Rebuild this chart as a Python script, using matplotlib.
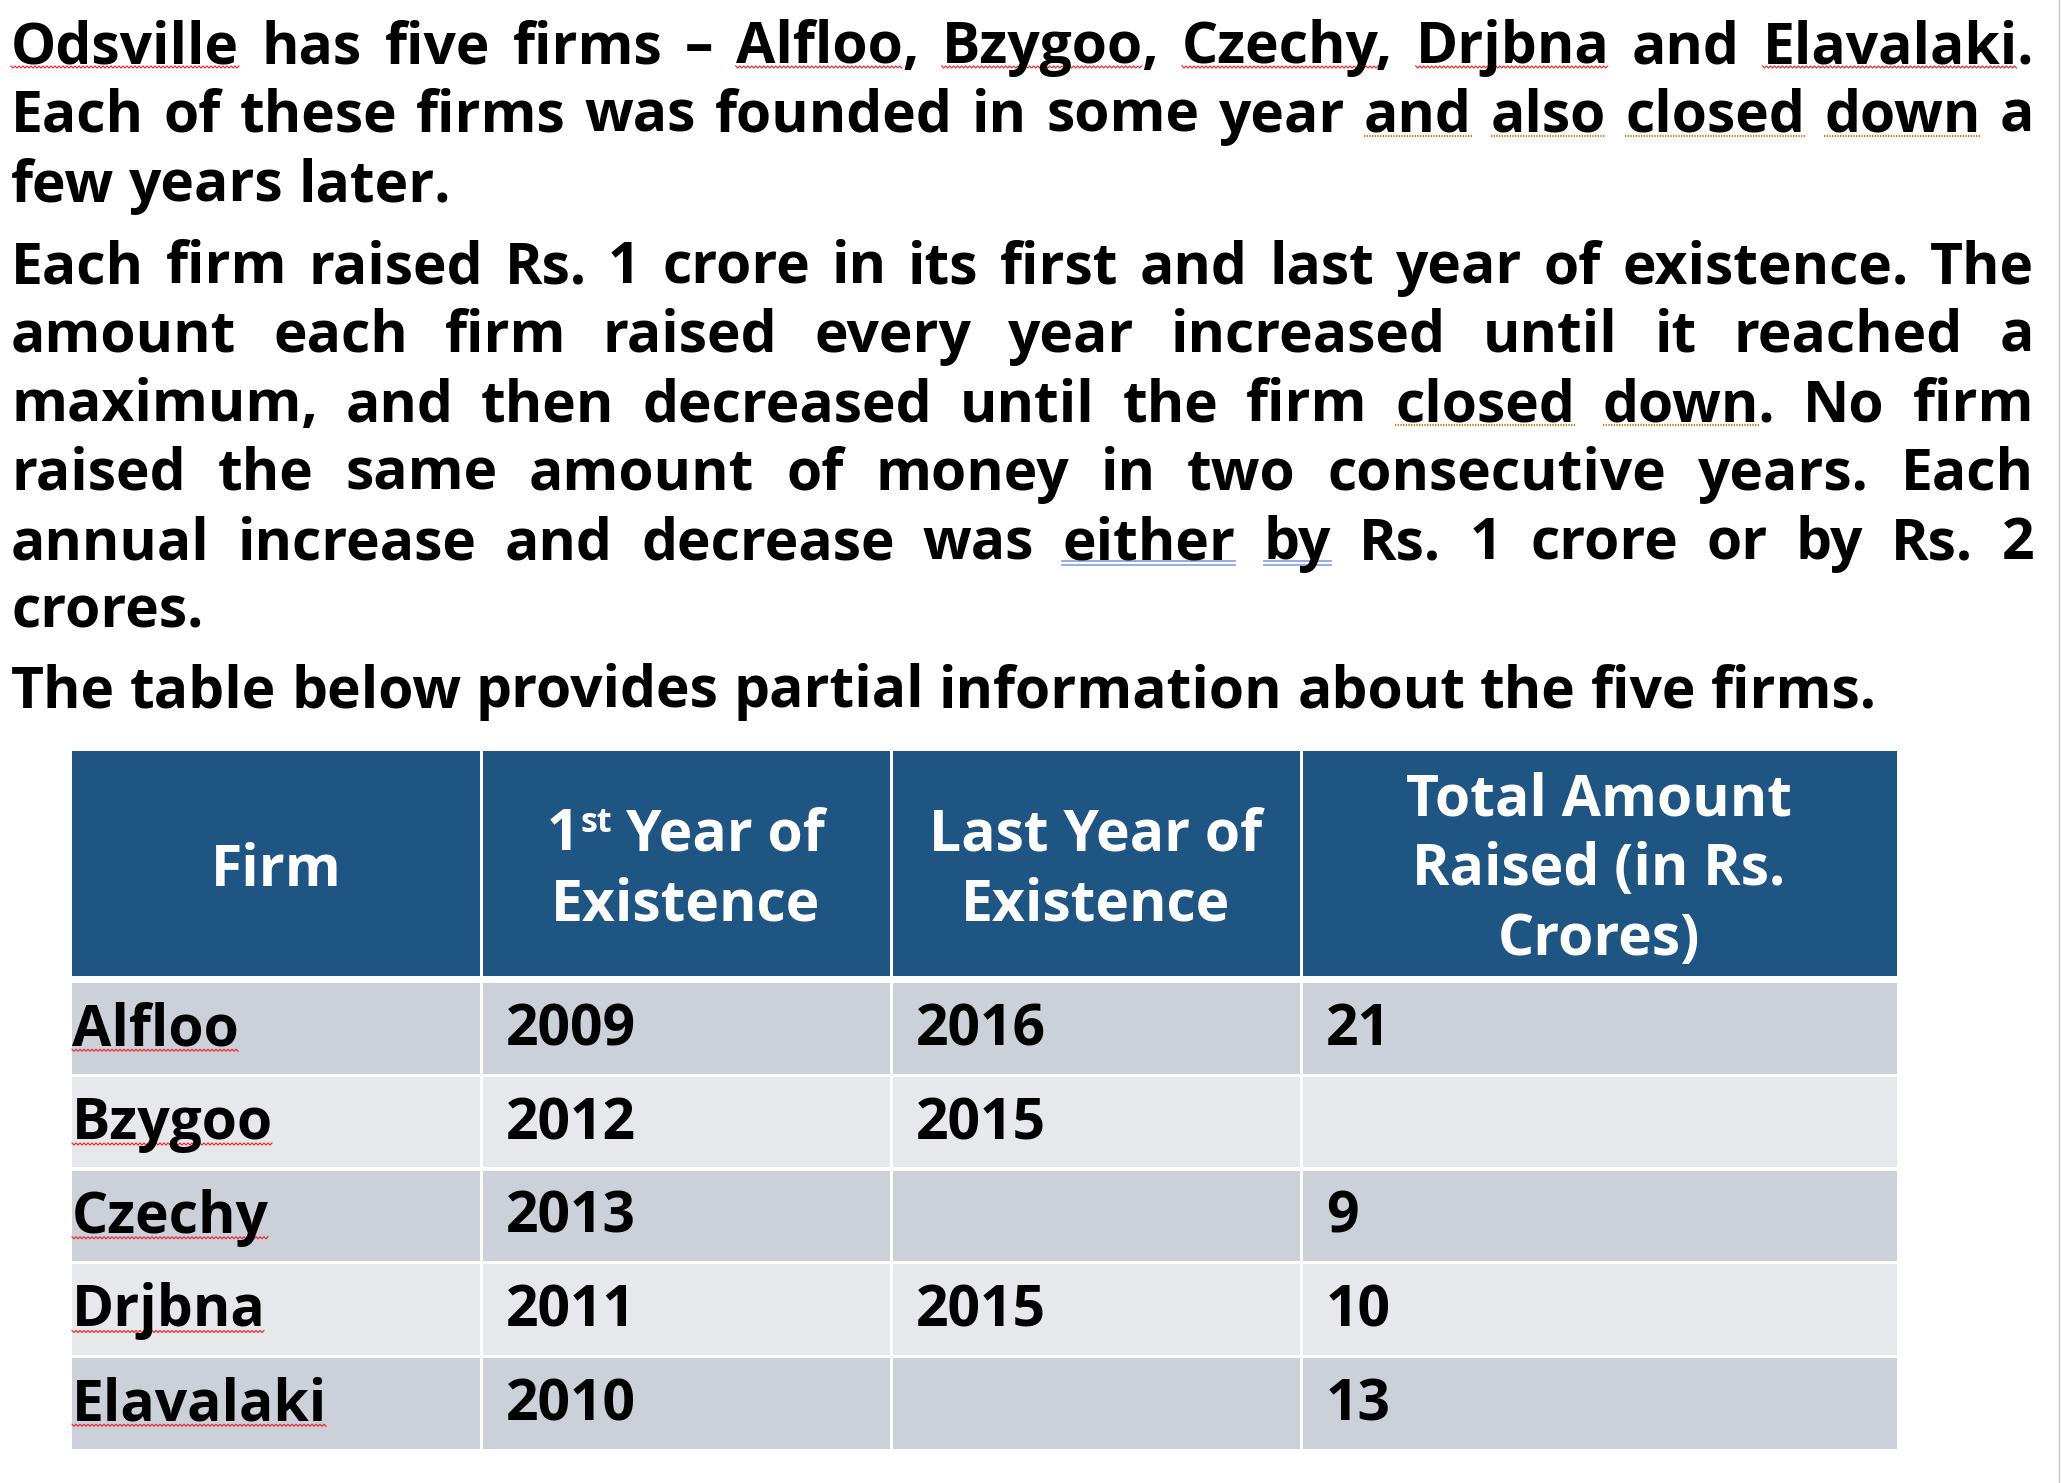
"""
Odsville firms puzzle: question text and partial information table,
redrawn as a single image (out.png, 2061 x 1483 px).
"""

import matplotlib.pyplot as plt
import numpy as np
from matplotlib import font_manager
from matplotlib.font_manager import FontProperties
from matplotlib.ft2font import FT2Font
from matplotlib.patches import Rectangle


# 1. Content

paragraph_1 = [
    "Odsville has five firms – Alfloo, Bzygoo, Czechy, Drjbna and Elavalaki.",
    "Each of these firms was founded in some year and also closed down a",
    "few years later.",
]
paragraph_2 = [
    "Each firm raised Rs. 1 crore in its first and last year of existence. The",
    "amount each firm raised every year increased until it reached a",
    "maximum, and then decreased until the firm closed down. No firm",
    "raised the same amount of money in two consecutive years. Each",
    "annual increase and decrease was either by Rs. 1 crore or by Rs. 2",
    "crores.",
]
paragraph_3 = [
    "The table below provides partial information about the five firms.",
]

header_labels = [
    ["Firm"],
    ["1st Year of", "Existence"],
    ["Last Year of", "Existence"],
    ["Total Amount", "Raised (in Rs.", "Crores)"],
]
firms = ["Alfloo", "Bzygoo", "Czechy", "Drjbna", "Elavalaki"]
first_year = ["2009", "2012", "2013", "2011", "2010"]
last_year = ["2016", "2015", "", "2015", ""]
total_raised = ["21", "", "9", "10", "13"]

# word underlines as (line number over all paragraphs, word index)
red_wavy_words = [(0, 0), (0, 5), (0, 6), (0, 7), (0, 8), (0, 10)]
gold_dotted_words = [(1, 9), (1, 10), (1, 11), (1, 12), (5, 7), (5, 8)]
blue_double_words = [(7, 5), (7, 6)]


# 2. Pick a static bold sans font that has every character we need

all_text = "".join(paragraph_1 + paragraph_2 + paragraph_3 + firms + first_year
                   + last_year + total_raised + sum(header_labels, []))
needed = {ord(ch) for ch in all_text if ch != " "}

preferred = ["Noto Sans", "Open Sans", "Noto Sans Devanagari UI", "Noto Sans Gujarati UI",
             "Roboto", "Lato", "Liberation Sans", "DejaVu Sans"]
bold_path = None
for name in preferred:
    for f in font_manager.fontManager.ttflist:
        if f.name != name or f.style != "normal" or "[" in f.fname:
            continue
        if f.weight not in (700, "bold"):
            continue
        try:
            charmap = FT2Font(f.fname).get_charmap()
        except Exception:
            continue
        if needed <= set(charmap):
            bold_path = f.fname
            break
    if bold_path:
        break


def make_prop(size):
    if bold_path:
        return FontProperties(fname=bold_path, size=size)
    return FontProperties(family="DejaVu Sans", weight="bold", size=size)


# 3. Layout and style

WIDTH, HEIGHT = 2061, 1483
TEXT_LEFT, TEXT_RIGHT = 11, 2034
PARAGRAPH_BASELINES = [63, 283, 707]
LINE_PITCH = 69

COL_EDGES = [72, 481, 891, 1301, 1897]
CELL_PAD = [0, 25, 25, 25]
HEADER_TOP, HEADER_BOTTOM = 751, 976
BODY_TOP, ROW_PITCH, ROW_HEIGHT = 983, 93.75, 90.5
HEADER_PITCH = 70

HEADER_COLOR = "#1F5583"
ROW_COLORS = ["#CBD0D9", "#E7E8EC"]

fig = plt.figure(figsize=(WIDTH / 100, HEIGHT / 100), dpi=100)
ax = fig.add_axes([0, 0, 1, 1])
ax.set_xlim(0, WIDTH)
ax.set_ylim(HEIGHT, 0)
ax.axis("off")

renderer = fig.canvas.get_renderer()

# fit the font size to the width of the last paragraph line
probe_width = renderer.get_text_width_height_descent(paragraph_3[0], make_prop(40), ismath=False)[0]
FONT_SIZE = 40 * 1862 / probe_width
prop = make_prop(FONT_SIZE)


def text_width(text, size=FONT_SIZE):
    return renderer.get_text_width_height_descent(text, make_prop(size), ismath=False)[0]


SPACE_WIDTH = text_width("a a") - text_width("aa")


def red_wavy(x0, x1, y):
    xs = np.arange(x0, x1, 2.0)
    ys = y + np.where(np.arange(len(xs)) % 2 == 0, -1.1, 1.1)
    ax.plot(xs, ys, color="#F02020", lw=0.8, solid_joinstyle="miter")


def gold_dotted(x0, x1, y):
    ax.plot([x0, x1], [y, y], color="#B8862E", lw=1.6, linestyle=(0, (0.6, 0.6)))


def blue_double(x0, x1, y):
    ax.plot([x0, x1], [y - 2, y - 2], color="#8AA6E6", lw=1.3)
    ax.plot([x0, x1], [y + 2, y + 2], color="#8AA6E6", lw=1.3)


# 4. Paragraphs (justified, last line of each paragraph left aligned)

line_number = 0
for paragraph, first_baseline in zip([paragraph_1, paragraph_2, paragraph_3], PARAGRAPH_BASELINES):
    for i, line in enumerate(paragraph):
        y = first_baseline + i * LINE_PITCH
        words = line.split(" ")
        widths = [text_width(w) for w in words]
        justify = i < len(paragraph) - 1
        if justify:
            gap = (TEXT_RIGHT - TEXT_LEFT - sum(widths)) / (len(words) - 1)
        else:
            gap = SPACE_WIDTH
        x = TEXT_LEFT
        for j, (word, w) in enumerate(zip(words, widths)):
            ax.text(x, y, word, fontproperties=prop, ha="left", va="baseline", color="black")
            bare = text_width(word.rstrip(".,"))
            if (line_number, j) in red_wavy_words:
                red_wavy(x, x + bare, y + 4)
            if (line_number, j) in gold_dotted_words:
                gold_dotted(x, x + bare, y + 4)
            if (line_number, j) in blue_double_words:
                blue_double(x, x + bare, y + 4)
            x += w + gap
        line_number += 1


# 5. Table header

for c, label_lines in enumerate(header_labels):
    x0, x1 = COL_EDGES[c], COL_EDGES[c + 1]
    left = x0 + (1.5 if c > 0 else 0)
    right = x1 - (1.5 if c < len(header_labels) - 1 else 0)
    ax.add_patch(Rectangle((left, HEADER_TOP), right - left, HEADER_BOTTOM - HEADER_TOP,
                           facecolor=HEADER_COLOR, edgecolor="none"))
    center_y = (HEADER_TOP + HEADER_BOTTOM) / 2
    center_x = (x0 + x1) / 2
    n = len(label_lines)
    for k, label in enumerate(label_lines):
        y = center_y + 22 + HEADER_PITCH * (k - (n - 1) / 2)
        if label.startswith("1st"):
            rest = label[4:]
            sup_size = FONT_SIZE * 0.6
            w1, w2, w3 = text_width("1"), text_width("st", sup_size), text_width(rest)
            total = w1 + w2 + SPACE_WIDTH + w3
            x = center_x - total / 2
            ax.text(x, y, "1", fontproperties=prop, ha="left", va="baseline", color="white")
            ax.text(x + w1 + 1, y - 18, "st", fontproperties=make_prop(sup_size),
                    ha="left", va="baseline", color="white")
            ax.text(x + w1 + w2 + SPACE_WIDTH, y, rest, fontproperties=prop,
                    ha="left", va="baseline", color="white")
        else:
            ax.text(center_x, y, label, fontproperties=prop, ha="center", va="baseline", color="white")


# 6. Table body

columns = [firms, first_year, last_year, total_raised]
for r in range(len(firms)):
    top = BODY_TOP + r * ROW_PITCH
    for c, column in enumerate(columns):
        x0, x1 = COL_EDGES[c], COL_EDGES[c + 1]
        left = x0 + (1.5 if c > 0 else 0)
        right = x1 - (1.5 if c < len(columns) - 1 else 0)
        ax.add_patch(Rectangle((left, top), right - left, ROW_HEIGHT,
                               facecolor=ROW_COLORS[r % 2], edgecolor="none"))
        value = column[r]
        if value:
            y = top + ROW_HEIGHT / 2 + 17
            ax.text(x0 + CELL_PAD[c], y, value, fontproperties=prop,
                    ha="left", va="baseline", color="black")
            if c == 0:
                red_wavy(x0 + CELL_PAD[c], x0 + CELL_PAD[c] + text_width(value), y + 5)


# faint page edge on the right
ax.plot([2058.5, 2058.5], [0, HEIGHT], color="#C8C8C8", lw=1.0)

fig.savefig("out.png", dpi=100)
plt.close(fig)
